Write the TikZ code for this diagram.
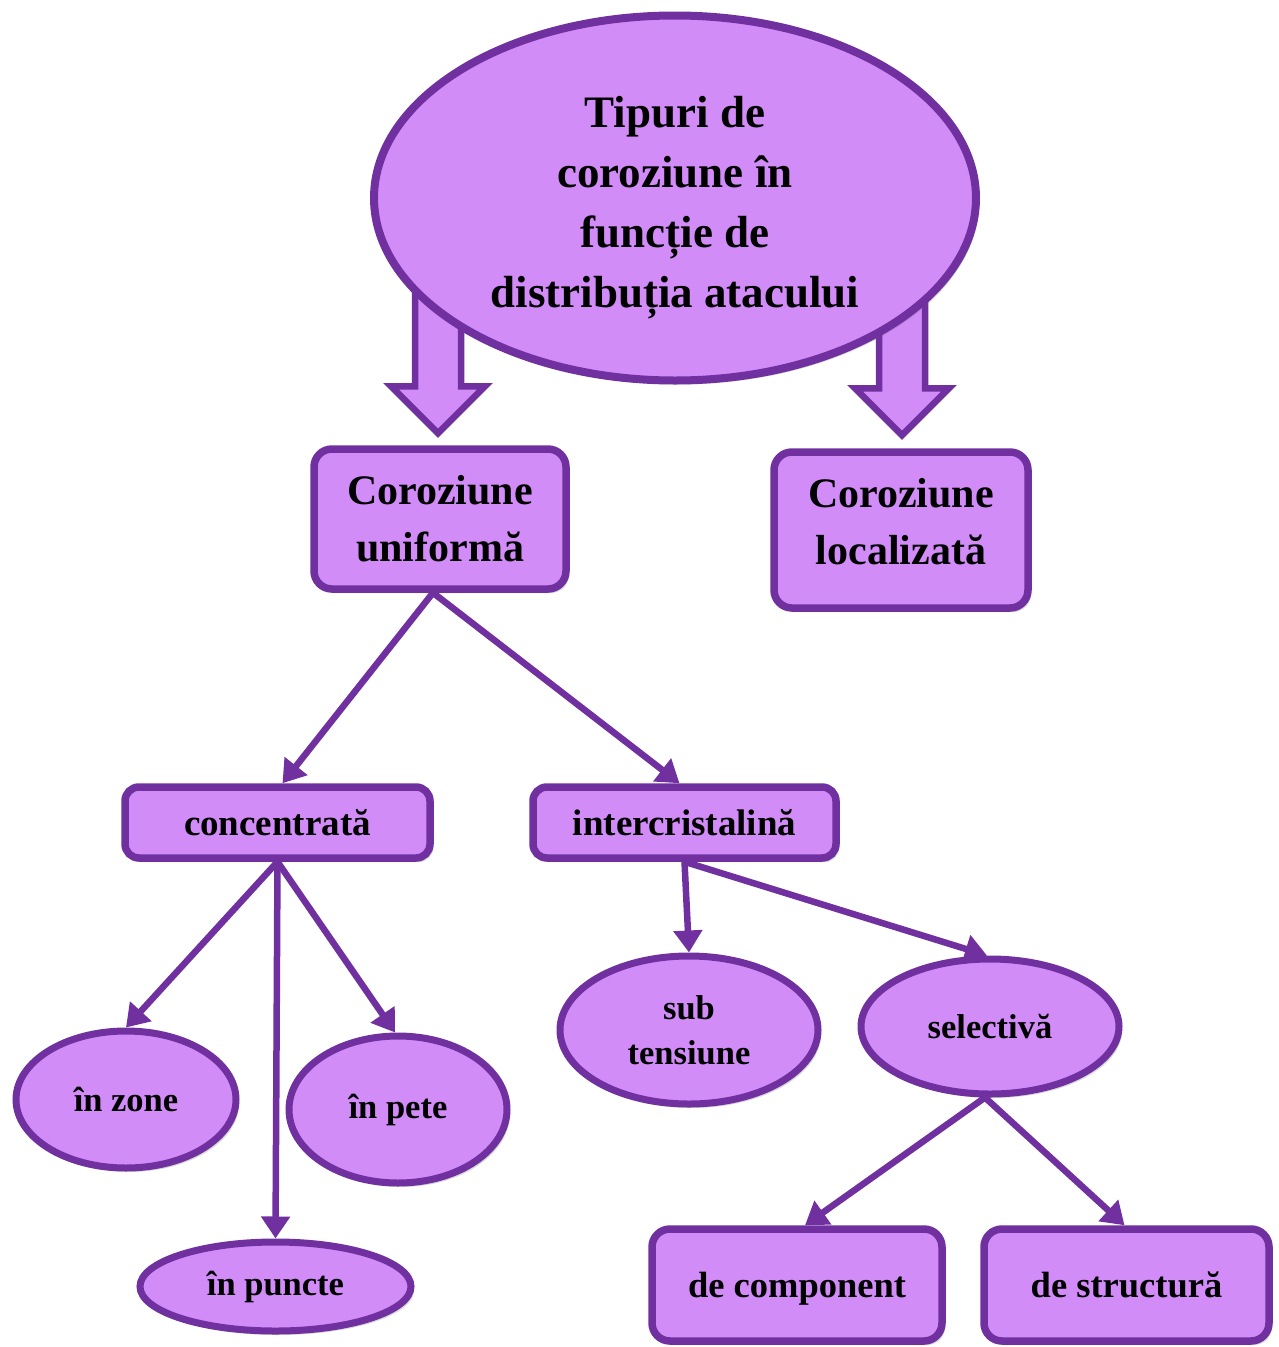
\documentclass[tikz,border=0pt]{standalone}
\usepackage{fontspec}
\setmainfont{Liberation Serif}
\usepackage{tikz}
\usetikzlibrary{arrows.meta,shapes.geometric,shadows,calc,backgrounds}
\definecolor{mauve}{HTML}{D28CF8}
\definecolor{plum}{HTML}{7030A0}
\tikzset{
  soft/.style={drop shadow={shadow xshift=3pt, shadow yshift=-4pt, opacity=0.25, fill=black!60}},
  box/.style={draw=plum, fill=mauve, line width=7.5pt, rounded corners=18pt, inner sep=0pt, align=center, soft},
  oval/.style={ellipse, draw=plum, fill=mauve, line width=7pt, inner sep=0pt, align=center, soft},
  link/.style={plum, line width=6.5pt, -{Triangle[length=22pt,width=28pt]}},
  fatline/.style={draw=plum, fill=mauve, line width=6.5pt, line join=miter},
}
\newcommand{\fatarrow}[2]{\draw[fatline] (#1) -- ++(-47,-47) -- ++(24,0) -- ++(0,-#2) -- ++(46,0) -- ++(0,#2) -- ++(24,0) -- cycle;}
\newcommand{\dropby}[2]{\raisebox{-#1}[\height][\depth]{#2}}

\begin{document}
\begin{tikzpicture}[x=1pt, y=-1pt]
  \useasboundingbox (0,0) rectangle (1279,1347);
  % top of the tree
  \node[oval, line width=8pt, minimum width=602pt, minimum height=365pt, font=\bfseries\fontsize{45}{60}\selectfont] (tipuri) at (675,198)
    {\dropby{7pt}{\begin{tabular}{@{}c@{}}Tipuri de\\coroziune în\\funcție de\\distribuția atacului\end{tabular}}};
  \node[box, minimum width=252pt, minimum height=140pt, font=\bfseries\fontsize{42}{57}\selectfont] (uni) at (440,519) {Coroziune\\uniformă};
  \node[box, minimum width=254pt, minimum height=156pt, font=\bfseries\fontsize{42}{57}\selectfont] (loc) at (901,530)
    {\dropby{-5pt}{\begin{tabular}{@{}c@{}}Coroziune\\localizată\end{tabular}}};
  % second level
  \node[box, rounded corners=14pt, minimum width=305pt, minimum height=71pt, font=\bfseries\fontsize{37}{45}\selectfont] (conc) at (277.5,822.5) {concentrată};
  \node[box, rounded corners=14pt, minimum width=303pt, minimum height=71pt, font=\bfseries\fontsize{37}{45}\selectfont] (inter) at (684.5,822.5) {intercristalină};
  % leaves
  \node[oval, minimum width=220pt, minimum height=137pt, font=\bfseries\fontsize{34.5}{45}\selectfont] (zone) at (126,1099.5) {în zone};
  \node[oval, minimum width=218pt, minimum height=147pt, font=\bfseries\fontsize{34.5}{45}\selectfont] (pete) at (398,1109.5) {în pete};
  \node[oval, minimum width=271pt, minimum height=89pt, font=\bfseries\fontsize{34.5}{45}\selectfont] (puncte) at (275.5,1286.5) {în puncte};
  \node[oval, minimum width=258pt, minimum height=148pt, font=\bfseries\fontsize{34.5}{45}\selectfont] (sub) at (689,1030) {sub\\tensiune};
  \node[oval, minimum width=258pt, minimum height=135pt, font=\bfseries\fontsize{34.5}{45}\selectfont] (sel) at (990,1026.5) {selectivă};
  \node[box, minimum width=290pt, minimum height=112pt, font=\bfseries\fontsize{36.5}{45}\selectfont] (comp) at (797,1285) {\dropby{4pt}{de component}};
  \node[box, minimum width=285pt, minimum height=112pt, font=\bfseries\fontsize{36.5}{45}\selectfont] (struct) at (1126.5,1285) {de structură};

  \begin{scope}[on background layer]
    \fatarrow{$(uni.north)+(-2,-12)$}{100}
    \fatarrow{$(loc.north)+(1,-13)$}{95}
  \end{scope}

  \draw[link] ($(uni.south)+(-7,0)$) -- ($(conc.north)+(5,0)$);
  \draw[link] ($(uni.south)+(-7,0)$) -- ($(inter.north)+(-5,0)$);
  \draw[link] (conc.south) -- (zone.north);
  \draw[link] (conc.south) -- (puncte.north);
  \draw[link] (conc.south) -- ($(pete.north)+(-3,0)$);
  \draw[link] (inter.south) -- (sub.north);
  \draw[link] (inter.south) -- ($(sel.north)+(-3,0)$);
  \draw[link] ($(sel.south)+(-5,0)$) -- ($(comp.north)+(8,0)$);
  \draw[link] ($(sel.south)+(-5,0)$) -- ($(struct.north)+(-2,0)$);
\end{tikzpicture}
\end{document}
